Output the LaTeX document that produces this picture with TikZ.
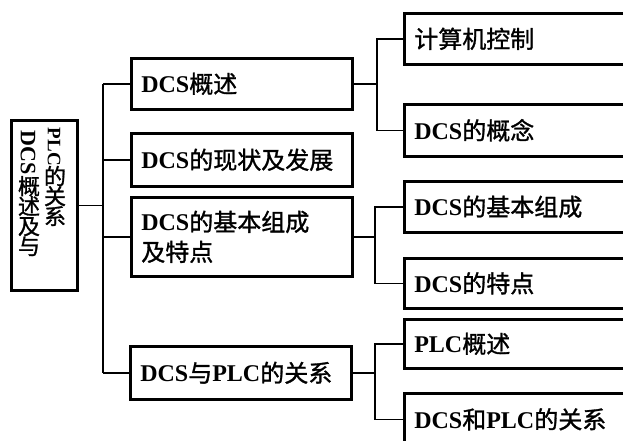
\documentclass[tikz,border=0pt]{standalone}
\usepackage{fontspec}
\usepackage{graphicx}
\newfontfamily\cjk{Noto Sans CJK SC}[FakeBold=1.2]
\newfontfamily\lat{Liberation Serif}
\newcommand\lt[1]{{\lat\bfseries #1}}
\begin{document}
\begin{tikzpicture}[x=1pt,y=-1pt,
  box/.style={draw, line width=2.6pt, rectangle, inner xsep=10pt, inner ysep=0pt,
    anchor=north west, align=left, font=\cjk\fontsize{24}{30}\selectfont},
  mid/.style={box, text width=201pt},
  leaf/.style={box, text width=240pt},
  conn/.style={line width=1.6pt},
  ch/.style={inner sep=0pt, text height=17pt, text depth=2pt, font=\cjk\fontsize{22}{22}\selectfont},
  vl/.style={inner sep=0pt, rotate=-90, font=\lat\bfseries\fontsize{22}{22}\selectfont}]
\clip (0,0) rectangle (623,441);
\fill[white] (0,0) rectangle (623,441);

% root
\node[draw, line width=2.6pt, minimum width=66pt, minimum height=170pt, inner sep=0pt,
      anchor=north west] (root) at (10,119) {};
% left column
\node[vl] (l0) at (28,153) {DCS};
\node[ch] (l1) at (29,187) {概};
\node[ch] (l2) at (29,207) {述};
\node[ch] (l3) at (29,227) {及};
\node[ch] (l4) at (29,247) {与};
% right column
\node[vl, font=\lat\bfseries\fontsize{19}{19}\selectfont] (q0) at (54,147) {PLC};
\node[ch] (q1) at (55,177) {的};
\node[ch] (q2) at (55,197) {关};
\node[ch] (q3) at (55,217) {系};

% middle level
\node[mid, minimum height=51pt] (m1) at (130,57) {\lt{DCS}概述};
\node[mid, minimum height=53pt] (m2) at (130,132) {\lt{DCS}的现状及发展};
\node[mid, minimum height=79pt] (m3) at (130,196) {\lt{DCS}的基本组成\\及特点};
\node[mid, minimum height=53pt] (m4) at (129,345) {\lt{DCS}与\lt{PLC}的关系};

% leaves
\node[leaf, minimum height=51pt] (r1) at (403,12) {计算机控制};
\node[leaf, minimum height=52pt] (r2) at (403,103) {\lt{DCS}的概念};
\node[leaf, minimum height=51pt] (r3) at (403,180) {\lt{DCS}的基本组成};
\node[leaf, minimum height=50pt] (r4) at (403,257) {\lt{DCS}的特点};
\node[leaf, minimum height=49pt] (r5) at (403,318) {\lt{PLC}概述};
\node[leaf, minimum height=52pt] (r6) at (403,392) {\lt{DCS}和\lt{PLC}的关系};

% trunk
\coordinate (tx) at (103,0);
\draw[conn] (root.east) -- (root.east -| tx);
\draw[conn] (tx |- m1.west) -- (tx |- m4.west);
\foreach \m in {m1,m2,m3,m4} \draw[conn] (tx |- \m.west) -- (\m.west);

% group 1
\coordinate (g1) at (377,0);
\draw[conn] (m1.east) -- (m1.east -| g1);
\draw[conn] (r1.west) -| (g1 |- r2.west) -- (r2.west);
% group 2
\coordinate (g2) at (375,0);
\draw[conn] (m3.east) -- (m3.east -| g2);
\draw[conn] (r3.west) -| (g2 |- r4.west) -- (r4.west);
% group 3
\coordinate (g3) at (375,0);
\draw[conn] (m4.east) -- (m4.east -| g3);
\draw[conn] (r5.west) -| (g3 |- r6.west) -- (r6.west);
\end{tikzpicture}
\end{document}
